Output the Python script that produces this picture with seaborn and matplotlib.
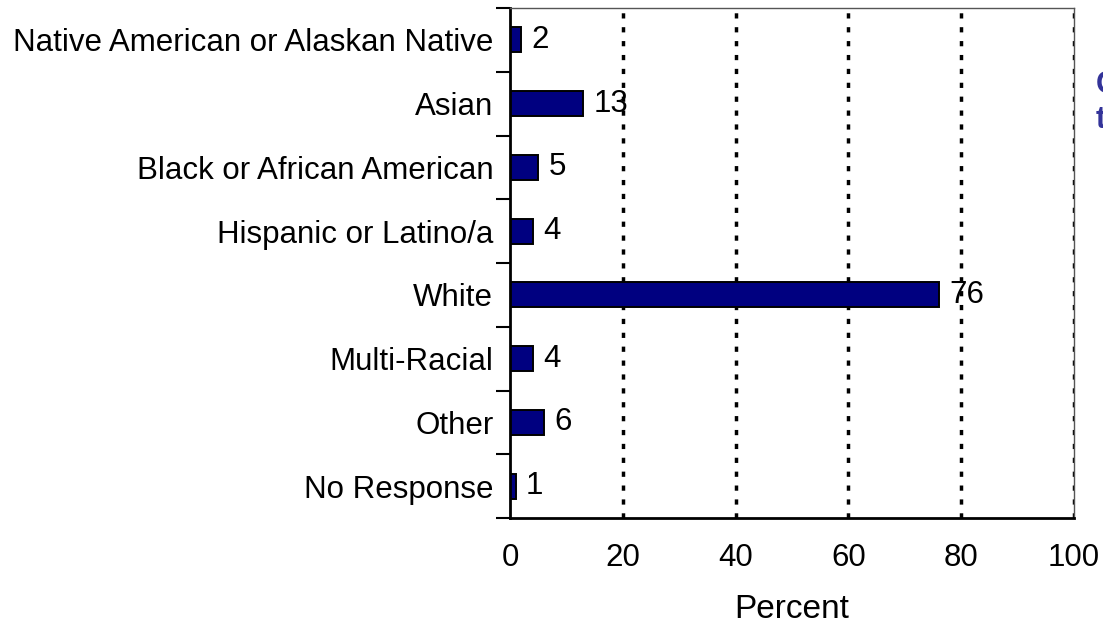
import matplotlib
matplotlib.use("Agg")
import matplotlib.pyplot as plt
import seaborn as sns
import numpy as np
import pandas as pd

# data
categories = ["Native American or Alaskan Native", "Asian", "Black or African American",
              "Hispanic or Latino/a", "White", "Multi-Racial", "Other", "No Response"]
percent = [2, 13, 5, 4, 76, 4, 6, 1]
x_ticks = [0, 20, 40, 60, 80, 100]

df = pd.DataFrame({"category": categories, "percent": percent})

sns.set_style("white")
plt.rcParams["font.family"] = ["Liberation Sans", "DejaVu Sans"]
plt.rcParams["text.color"] = "black"
plt.rcParams["xtick.color"] = "black"
plt.rcParams["ytick.color"] = "black"
plt.rcParams["axes.labelcolor"] = "black"

fig = plt.figure(figsize=(11.03, 6.26), dpi=100)
ax = fig.add_axes([510 / 1103, 1 - 518 / 626, (1074 - 510) / 1103, (518 - 8) / 626])

sns.barplot(data=df, x="percent", y="category", orient="h", color="#000080",
            saturation=1, edgecolor="black", linewidth=1.4, width=0.39, ax=ax)

# value labels
for i, v in enumerate(percent):
    ax.annotate(str(v), (v, i), xytext=(7.5, 0), textcoords="offset points",
                va="center", ha="left", fontsize=22.5, color="black")

ax.set_xlim(0, 100)
ax.set_ylim(len(categories) - 0.5, -0.5)

# dotted vertical grid
for xv in x_ticks[1:]:
    ax.axvline(xv, color="black", linestyle=(0, (1.5, 2.5)), linewidth=2.5, zorder=0)

ax.set_xticks(x_ticks)
ax.set_xticklabels([str(t) for t in x_ticks], fontsize=22.5)
ax.tick_params(axis="x", length=0, pad=18)

ax.set_yticks(range(len(categories)))
ax.set_yticklabels(categories, fontsize=22.5)
ax.tick_params(axis="y", which="major", length=0, pad=12)
ax.set_yticks(np.arange(-0.5, len(categories), 1), minor=True)
ax.tick_params(axis="y", which="minor", length=10, width=1.5, direction="out", left=True, color="black")

ax.set_xlabel("Percent", fontsize=24, labelpad=15)
ax.set_ylabel("")

for side in ["left", "bottom"]:
    ax.spines[side].set_color("black")
    ax.spines[side].set_linewidth(2)
for side in ["top", "right"]:
    ax.spines[side].set_color("#555555")
    ax.spines[side].set_linewidth(1)

# clipped side title at the right edge
fig.text(1096 / 1103, 1 - 85 / 626, "C", color="#333399", fontsize=22, fontweight="bold", va="center")
fig.text(1096 / 1103, 1 - 120 / 626, "t", color="#333399", fontsize=22, fontweight="bold", va="center")

fig.savefig("out.png", dpi=100)
